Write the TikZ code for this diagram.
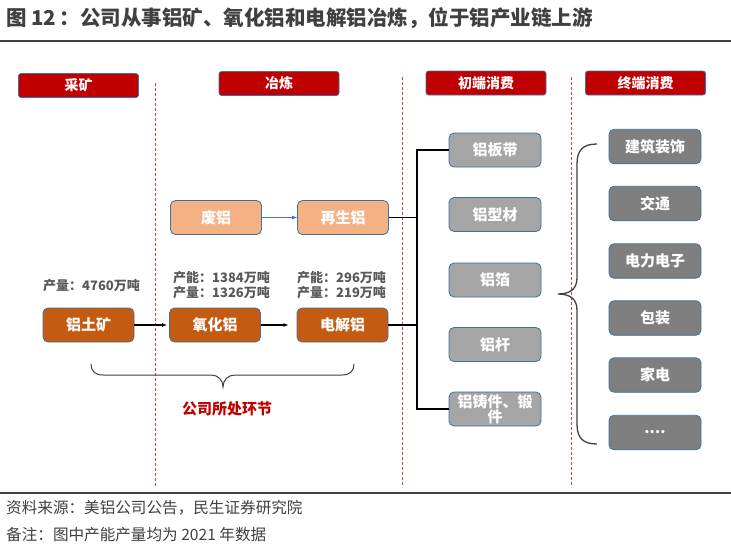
\documentclass[tikz,border=0pt]{standalone}
\usepackage{fontspec}
\setmainfont{Noto Sans CJK SC}
\usetikzlibrary{arrows.meta}
\definecolor{hred}{HTML}{C00000}
\definecolor{bordc}{HTML}{41719C}
\definecolor{dorange}{HTML}{C55A11}
\definecolor{lorange}{HTML}{F4B183}
\definecolor{lgray}{HTML}{A5A5A5}
\definecolor{dgray}{HTML}{7F7F7F}
\definecolor{txtgray}{HTML}{404040}
\definecolor{lblgray}{HTML}{595959}
\definecolor{arrblue}{HTML}{4472C4}
\definecolor{sepred}{HTML}{D04040}
\tikzset{
  hdr/.style={draw=bordc, line width=0.6pt, fill=hred, rounded corners=2.5pt, minimum width=120pt, minimum height=24pt, inner sep=0pt, text=white, font=\bfseries\fontsize{14}{14}\selectfont},
  procbox/.style={draw=bordc, line width=0.8pt, rounded corners=5pt, minimum width=91pt, minimum height=34pt, inner sep=0pt, text=white, font=\bfseries\fontsize{15}{16}\selectfont, align=center},
  darkbox/.style={procbox, fill=dorange},
  lightbox/.style={procbox, fill=lorange},
  initbox/.style={procbox, fill=lgray, minimum width=92pt},
  termbox/.style={procbox, fill=dgray, minimum width=92pt, minimum height=34.5pt},
  lbl/.style={anchor=west, inner sep=0pt, text=lblgray, font=\bfseries\fontsize{13}{13}\selectfont},
  sepline/.style={sepred, line width=0.6pt, dash pattern=on 3pt off 2pt},
  flow/.style={black, line width=1.2pt, -{Latex[length=5pt,width=4pt]}},
  busline/.style={black, line width=1.3pt},
  bracel/.style={txtgray, line width=1pt},
  footer/.style={anchor=west, inner sep=0pt, text=txtgray, font=\fontsize{15.6}{15.6}\selectfont}
}
\begin{document}
\begin{tikzpicture}[x=1pt,y=-1pt]
\useasboundingbox (0,0) rectangle (731,547);
\fill[white] (0,0) rectangle (731,547);

% title
\node[anchor=west, inner sep=0pt, text=txtgray, font=\bfseries\fontsize{20.5}{20.5}\selectfont] (title) at (6,18) {图 12\,：公司从事铝矿、氧化铝和电解铝冶炼，位于铝产业链上游};
\draw[txtgray, line width=2.5pt] (0,41) -- (731,41);

% headers
\node[hdr] (h1) at (78.5,85.5) {采矿};
\node[hdr] (h2) at (279,83.5) {冶炼};
\node[hdr] (h3) at (486,83) {初端消费};
\node[hdr] (h4) at (645.5,83) {终端消费};

% separators
\draw[sepline] (155,83) -- (155,487);
\draw[sepline] (402,77) -- (402,487);
\draw[sepline] (571,77) -- (571,487);

% process boxes
\node[darkbox] (bauxite) at (88.5,325) {铝土矿};
\node[darkbox] (alumina) at (215,325) {氧化铝};
\node[darkbox] (electro) at (342.5,325) {电解铝};
\node[lightbox] (scrap) at (216,217.5) {废铝};
\node[lightbox] (recyc) at (343,217.5) {再生铝};

% labels
\node[lbl] (l1) at (43,286) {产量：4760万吨};
\node[lbl] (l2) at (173,278) {产能：1384万吨};
\node[lbl] (l3) at (173,293) {产量：1326万吨};
\node[lbl] (l4) at (297,278) {产能：296万吨};
\node[lbl] (l5) at (297,293) {产量：219万吨};

% flows
\draw[flow] (bauxite.east) -- ([xshift=-2pt]alumina.west);
\draw[flow, shorten >=8pt] (alumina.east) -- (electro.west);
\draw[arrblue, line width=0.8pt, -{Latex[length=5pt,width=4pt]}] (scrap.east) -- (recyc.west);

% initial consumption
\node[initbox] (p1) at (495,150) {铝板带};
\node[initbox] (p2) at (495,214.5) {铝型材};
\node[initbox] (p3) at (495,280) {铝箔};
\node[initbox] (p4) at (495,344.5) {铝杆};
\node[initbox, font=\bfseries\fontsize{15}{15.5}\selectfont] (p5) at (495,409) {铝铸件、锻\\件};

% bus
\coordinate (bus) at (417,150);
\draw[busline] (p1.west) -- (p1.west -| bus) -- (p5.west -| bus) -- (p5.west);
\draw[busline] (recyc.east) -- (recyc.east -| bus);
\draw[busline] (electro.east) -- (electro.east -| bus);

% terminal consumption
\node[termbox] (t1) at (655,146.5) {建筑装饰};
\node[termbox] (t2) at (655,203.5) {交通};
\node[termbox] (t3) at (655,261) {电力电子};
\node[termbox] (t4) at (655,318) {包装};
\node[termbox] (t5) at (655,375) {家电};
\node[termbox] (t6) at (655,432.5) {....};

% big brace
\draw[bracel, line width=1.3pt] (597,144) .. controls (583,144) and (577,150) .. (577,164) -- (577,278) .. controls (577,289) and (570,294) .. (558,294) .. controls (570,294) and (577,299) .. (577,310) -- (577,424) .. controls (577,438) and (583,444) .. (597,444);

% bottom brace
\draw[bracel] (91,364) .. controls (91,371) and (95,375) .. (103,375) -- (211,375) .. controls (218,375) and (223,380) .. (223,387) .. controls (223,380) and (228,375) .. (235,375) -- (342,375) .. controls (350,375) and (354,371) .. (354,364);
\node[inner sep=0pt, text=hred, font=\bfseries\fontsize{15}{15}\selectfont] (stage) at (227,409) {公司所处环节};

% footer
\draw[txtgray, line width=2.5pt] (0,493) -- (731,493);
\node[footer] (f1) at (6,508) {资料来源：美铝公司公告，民生证券研究院};
\node[footer] (f2) at (6,535) {备注：图中产能产量均为 2021 年数据};
\end{tikzpicture}
\end{document}
